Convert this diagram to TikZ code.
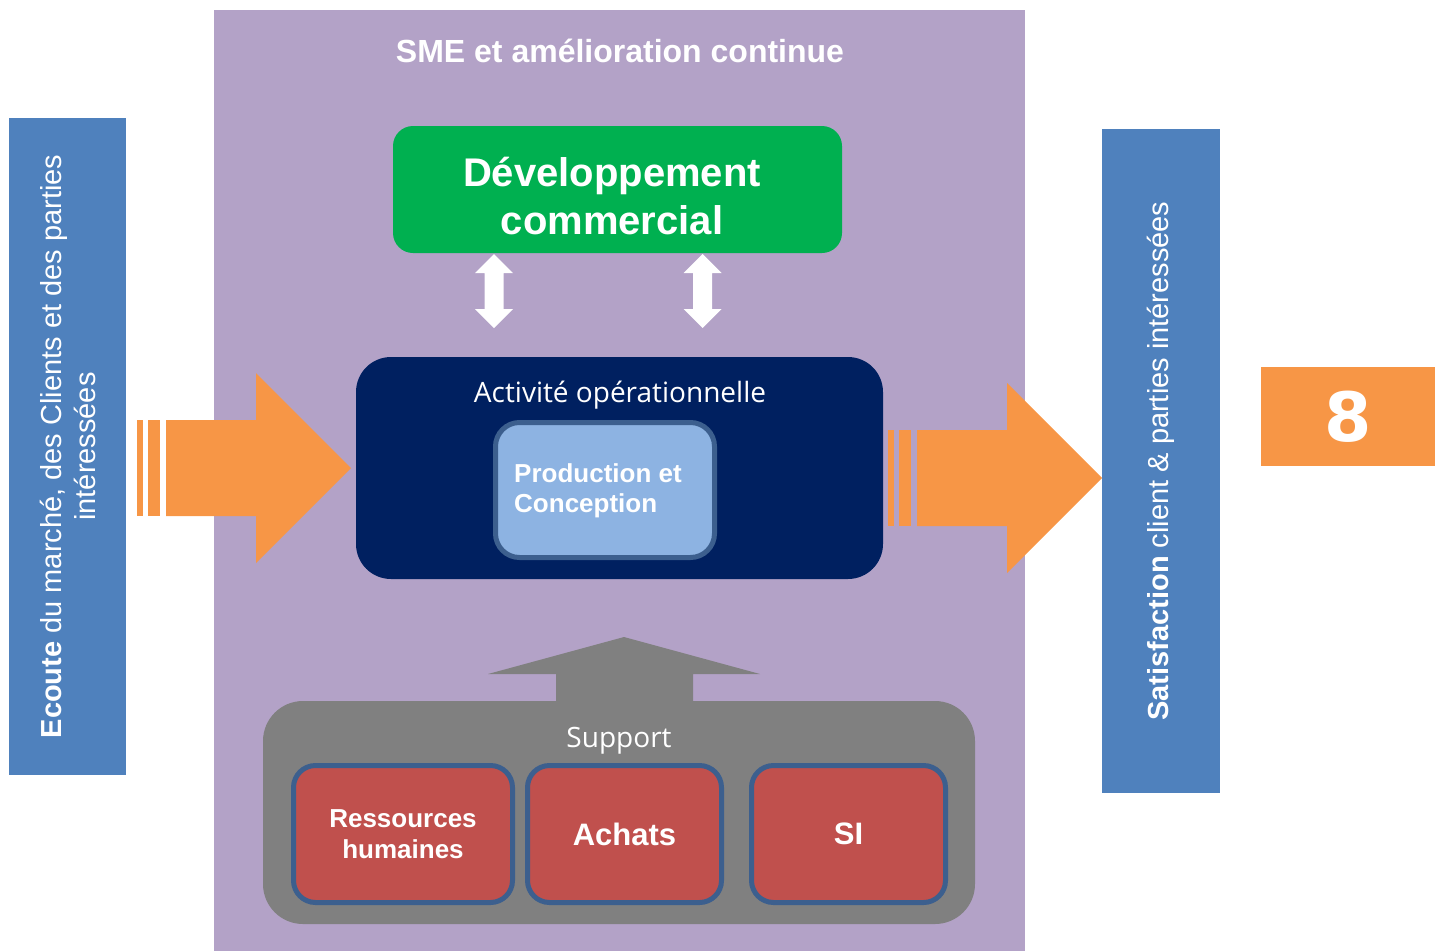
\documentclass[tikz,border=0pt]{standalone}
\usepackage{fontspec}
\setmainfont{Liberation Sans}
\newfontfamily\opensans{Open Sans}
\newfontfamily\dejavu{DejaVu Sans}
\definecolor{smepurple}{HTML}{B3A2C7}
\definecolor{barblue}{HTML}{4F81BD}
\definecolor{floworange}{HTML}{F79646}
\definecolor{devgreen}{HTML}{00B050}
\definecolor{opnavy}{HTML}{002060}
\definecolor{prodblue}{HTML}{8DB3E2}
\definecolor{edgeblue}{HTML}{3C5F8E}
\definecolor{suppgray}{HTML}{808080}
\definecolor{suppred}{HTML}{C0504D}
\begin{document}
\begin{tikzpicture}[x=1pt, y=-1pt,
	bar/.style={fill=barblue, text=white, inner sep=0, rotate=90, align=center, font=\fontsize{29}{34}\selectfont},
	redbox/.style={fill=suppred, draw=edgeblue, line width=5pt, rounded corners=22pt, minimum height=137pt, text=white, align=center, inner sep=0}]
	\useasboundingbox (0,0) rectangle (1435,951);
	\fill[smepurple] (214,10) rectangle (1025,951);
	\node[white, font=\bfseries\fontsize{32}{36}\selectfont, anchor=base] (sme) at (620,62) {SME et amélioration continue};
	% side bars
	\node[bar, minimum width=657pt, minimum height=117pt] (ecoute) at (67.5,446.5) {\textbf{Ecoute} du marché, des Clients et des parties\\intéressées};
	\node[bar, minimum width=664pt, minimum height=118pt] (satisf) at (1161,461) {\textbf{Satisfaction} client \& parties intéressées};
	\node[fill=floworange, text=white, minimum width=174pt, minimum height=99pt, inner sep=0, font=\dejavu\bfseries\fontsize{68}{72}\selectfont] (huit) at (1348,416.5) {8};
	% orange flow arrows
	\foreach \dx/\dy in {0/0, 751/10}
	{
		\begin{scope}[shift={(\dx,\dy)}]
			\fill[floworange] (137,420) rectangle (143,516);
			\fill[floworange] (148,420) rectangle (160,516);
			\fill[floworange] (166,420) -- (256,420) -- (256,373) -- (351,468) -- (256,563) -- (256,516) -- (166,516) -- cycle;
		\end{scope}
	}
	% blocks
	\node[fill=devgreen, rounded corners=20pt, minimum width=449pt, minimum height=127pt] (dev) at (617.5,189.5) {};
	\node[white, align=center, font=\bfseries\fontsize{40}{48}\selectfont] (devlbl) at (612,196) {Développement\\commercial};
	\foreach \cx in {494,702.5}
		\fill[white] (\cx,254) -- ++(19,19) -- ++(-9.5,0) -- ++(0,36) -- ++(9.5,0) -- ++(-19,19) -- ++(-19,-19) -- ++(9.5,0) -- ++(0,-36) -- ++(-9.5,0) -- cycle;
	\node[fill=opnavy, rounded corners=35pt, minimum width=527pt, minimum height=222pt] (oper) at (619.5,468) {};
	\node[white, font=\opensans\fontsize{28}{32}\selectfont, anchor=base] (operlbl) at (620,402) {Activité opérationnelle};
	\node[fill=prodblue, draw=edgeblue, line width=5pt, rounded corners=24pt, minimum width=219pt, minimum height=135pt] (prod) at (605,490) {};
	\node[white, anchor=west, inner sep=0, align=left, font=\bfseries\fontsize{26}{30}\selectfont] (prodlbl) at (514,491) {Production et\\Conception};
	% support
	\fill[suppgray] (556,701) -- (556,674) -- (488,674) -- (624,637) -- (760,674) -- (693,674) -- (693,701) -- cycle;
	\node[fill=suppgray, rounded corners=40pt, minimum width=712pt, minimum height=223pt] (supp) at (619,812.5) {};
	\node[white, font=\opensans\fontsize{28}{32}\selectfont, anchor=base] (supplbl) at (619,747) {Support};
	\node[redbox, minimum width=219pt, font=\bfseries\fontsize{26}{31}\selectfont] (rh) at (403,834) {Ressources\\humaines};
	\node[redbox, minimum width=194pt, font=\bfseries\fontsize{31}{36}\selectfont] (achats) at (624.5,834) {Achats};
	\node[redbox, minimum width=194pt, font=\bfseries\fontsize{31}{36}\selectfont] (si) at (848.5,834) {SI};
\end{tikzpicture}
\end{document}
